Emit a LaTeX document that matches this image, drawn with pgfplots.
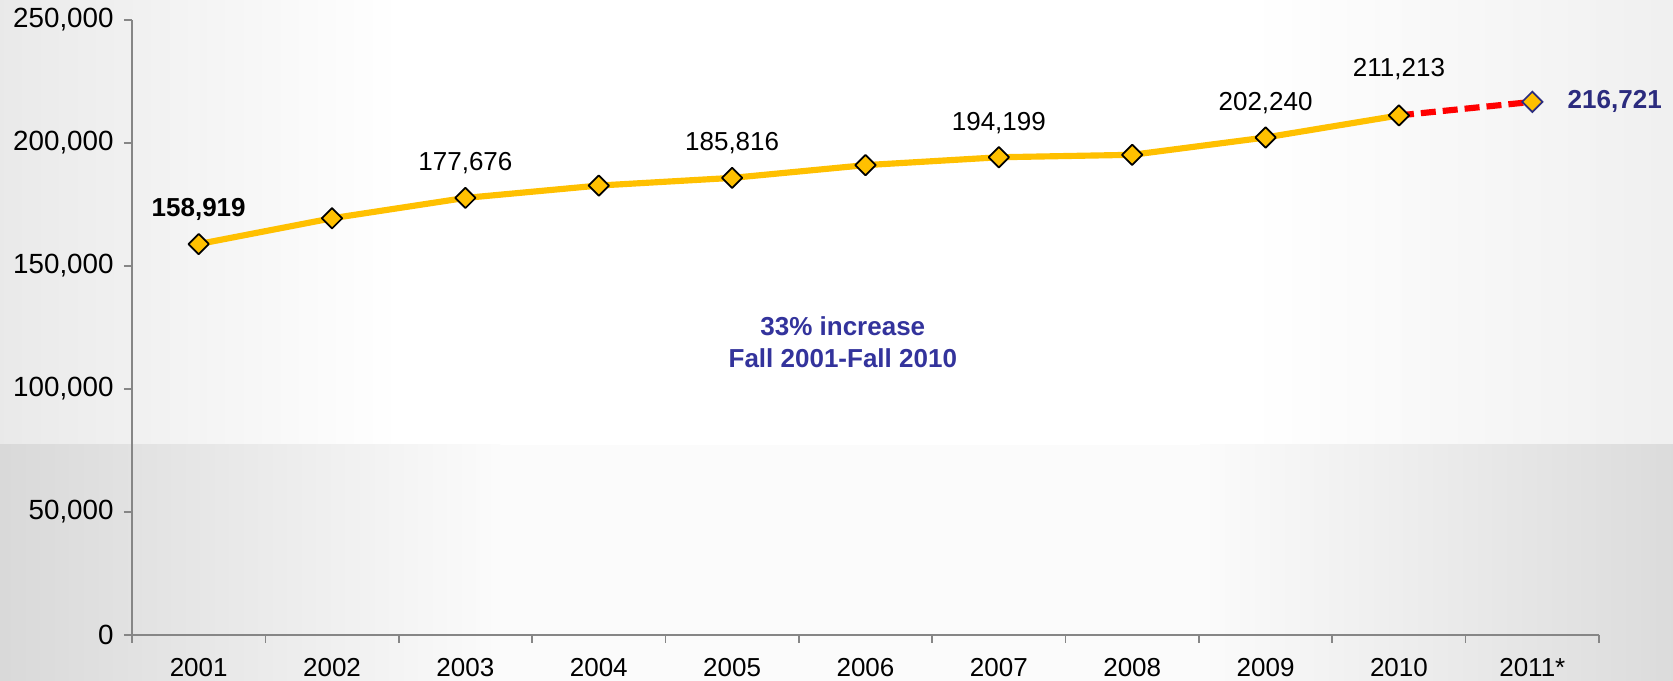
\documentclass[border=0pt]{standalone}
\usepackage{pgfplots}
\pgfplotsset{compat=1.18}
\usepackage{fontspec}
\setmainfont{Liberation Sans}
\definecolor{lineyellow}{HTML}{FFC000}
\definecolor{axisgray}{HTML}{868686}
\definecolor{navy}{HTML}{2B2B7E}
\definecolor{annoblue}{HTML}{33339C}
\newcommand\lbl{\fontsize{7.4}{8.9}\selectfont}
\newcommand\ylbl{\fontsize{7.9}{9.5}\selectfont}

\begin{document}
\begin{tikzpicture}
% slide background
\fill[white] (0,0) rectangle (167.3mm,68.1mm);
\shade[left color=gray!17, right color=white] (0,23.6mm) rectangle (40mm,68.1mm);
\shade[left color=white, right color=gray!12] (125mm,23.6mm) rectangle (167.3mm,68.1mm);
\shade[left color=gray!30, right color=gray!3] (0,0) rectangle (50mm,23.6mm);
\fill[gray!3] (50mm,0) rectangle (120mm,23.6mm);
\shade[left color=gray!3, right color=gray!28] (120mm,0) rectangle (167.3mm,23.6mm);

\begin{axis}[
    at={(13.2mm,4.6mm)}, anchor=south west,
    width=146.7mm, height=61.5mm, scale only axis,
    xmin=-0.5, xmax=10.5,
    ymin=0, ymax=250000,
    axis x line=bottom, axis y line=left,
    axis line style={-, draw=axisgray, line width=0.45pt},
    tick align=outside,
    xtick={0,...,10},
    xticklabels={2001,2002,2003,2004,2005,2006,2007,2008,2009,2010,2011*},
    minor xtick={-0.5,0.5,...,10.5},
    major x tick style={draw=none},
    minor x tick style={draw=axisgray, line width=0.45pt},
    ytick={0,50000,...,250000},
    y tick style={draw=axisgray, line width=0.45pt},
    major tick length=0.8mm, minor tick length=0.8mm,
    scaled y ticks=false,
    /pgf/number format/.cd, fixed, 1000 sep={,}, assume math mode=true,
    /pgfplots/.cd,
    xticklabel style={font=\lbl, text=black, yshift=-0.3mm},
    yticklabel style={font=\ylbl, text=black, xshift=0.2mm},
    clip=false,
]
% 2010 -> 2011 projection
\addplot[red, line width=1.75pt, dash pattern=on 1.5mm off 0.7mm, mark=none]
    coordinates {(9,211213) (10,216721)};
% actual headcount
\addplot[lineyellow, line width=1.75pt, line join=round,
    mark=square*, mark size=0.72mm,
    mark options={rotate=45, fill=lineyellow, draw=black, line width=0.5pt, solid}]
    coordinates {(0,158919) (1,169400) (2,177676) (3,182700) (4,185816)
                 (5,191000) (6,194199) (7,195200) (8,202240) (9,211213)};
\addplot[only marks, mark=square*, mark size=0.72mm,
    mark options={rotate=45, fill=lineyellow, draw=navy, line width=0.5pt}]
    coordinates {(10,216721)};

% value labels
\addplot[draw=none, mark=none, nodes near coords, point meta=explicit symbolic,
    every node near coord/.style={anchor=center, yshift=3.45mm, font=\lbl, text=black}]
    table[meta=lab] {
x y lab
2 177676 177,676
4 185816 185,816
6 194199 194,199
8 202240 202,240
};
\addplot[draw=none, mark=none, nodes near coords, point meta=explicit symbolic,
    every node near coord/.style={anchor=center, yshift=4.6mm, font=\lbl, text=black}]
    table[meta=lab] {
x y lab
9 211213 211,213
};
\addplot[draw=none, mark=none, nodes near coords, point meta=explicit symbolic,
    every node near coord/.style={anchor=center, yshift=3.5mm, font=\lbl\bfseries, text=black}]
    table[meta=lab] {
x y lab
0 158919 158,919
};
\addplot[draw=none, mark=none, nodes near coords, point meta=explicit symbolic,
    every node near coord/.style={anchor=west, xshift=2.3mm, font=\lbl\bfseries, text=navy}]
    table[meta=lab] {
x y lab
10 216721 216,721
};

\node[align=center, font=\lbl\bfseries, text=annoblue, inner sep=0pt]
    at (axis cs:4.83,119000) {33\% increase\\Fall 2001-Fall 2010};
\end{axis}
\pgfresetboundingbox
\useasboundingbox (0,0) rectangle (167.3mm,68.1mm);
\end{tikzpicture}
\end{document}
